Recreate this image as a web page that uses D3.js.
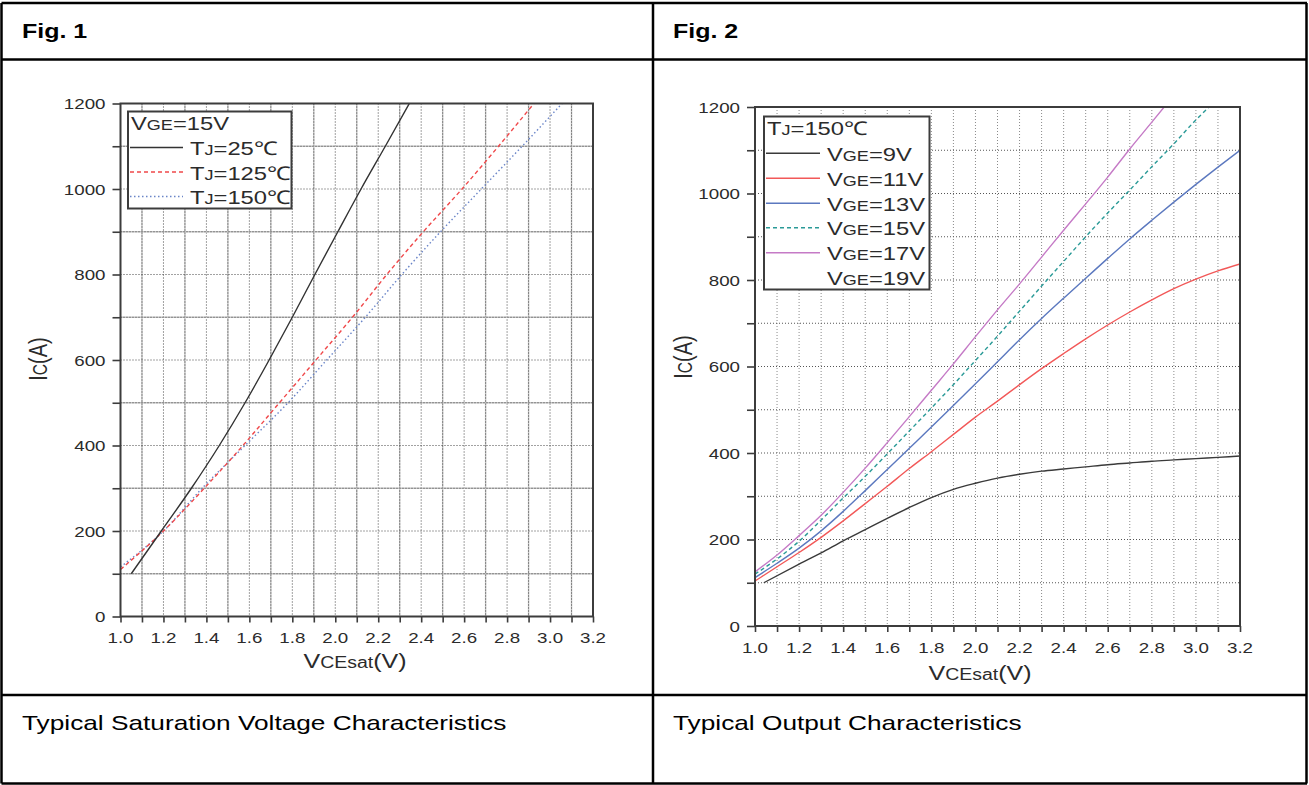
<!doctype html>
<html>
<head>
<meta charset="utf-8">
<script src="https://d3js.org/d3.v7.min.js"></script>
<style>
  body { margin: 0; background: #fff; }
  text { font-family: "Liberation Sans", Arial, sans-serif; }
</style>
</head>
<body>
<script>
// ---------- data ----------
var xTickLabels = [1.0, 1.2, 1.4, 1.6, 1.8, 2.0, 2.2, 2.4, 2.6, 2.8, 3.0, 3.2];
var xMinorTicks = [1.1, 1.3, 1.5, 1.7, 1.9, 2.1, 2.3, 2.5, 2.7, 2.9, 3.1];
var yTickLabels = [0, 200, 400, 600, 800, 1000, 1200];
var yMinorTicks = [100, 300, 500, 700, 900, 1100];

// Fig. 1  VGE = 15V, [VCEsat, IC]
var tj25 = [[1.05,100],[1.19,200],[1.33,300],[1.46,400],[1.58,500],[1.692,600],[1.80,700],
            [1.905,800],[2.012,900],[2.12,1000],[2.233,1100],[2.345,1200]];
var tj125 = [[1.0,110],[1.2,200],[1.39,300],[1.57,400],[1.74,500],[1.91,600],[2.08,700],
             [2.24,800],[2.41,900],[2.59,1000],[2.76,1100],[2.925,1200]];
var tj150 = [[1.0,116],[1.2,200],[1.38,300],[1.58,400],[1.78,500],[1.96,600],[2.14,700],
             [2.31,800],[2.49,900],[2.68,1000],[2.87,1100],[3.056,1200]];

// Fig. 2  TJ = 150C, [VCEsat, IC]
var vge9 = [[1.04,100],[1.2,143],[1.3,169],[1.4,197],[1.5,223],[1.6,249],[1.7,274],[1.8,297],
            [1.9,316],[2.0,330],[2.1,342],[2.2,351],[2.3,358],[2.4,363],[2.5,368],[2.6,373],
            [2.7,377],[2.8,381],[2.9,384],[3.0,387],[3.1,390],[3.2,393]];
var vge11 = [[1.0,104],[1.1,137],[1.2,170],[1.3,205],[1.4,243],[1.5,283],[1.6,323],[1.7,364],
             [1.8,403],[1.9,443],[2.0,483],[2.1,520],[2.2,558],[2.3,595],[2.4,630],[2.5,664],
             [2.6,696],[2.7,726],[2.8,754],[2.9,780],[3.0,802],[3.1,821],[3.2,837]];
var vge13 = [[1.0,112],[1.1,145],[1.2,180],[1.3,220],[1.4,265],[1.5,313],[1.6,362],[1.7,411],
             [1.8,460],[1.9,510],[2.0,560],[2.1,611],[2.2,662],[2.3,711],[2.4,758],[2.5,804],
             [2.6,850],[2.7,895],[2.8,938],[2.9,980],[3.0,1021],[3.1,1061],[3.2,1100]];
var vge15 = [[1.0,120],[1.1,155],[1.2,196],[1.3,245],[1.4,296],[1.5,346],[1.6,398],[1.7,451],
             [1.8,504],[1.9,558],[2.0,614],[2.1,670],[2.2,728],[2.3,786],[2.4,843],[2.5,900],
             [2.6,955],[2.7,1008],[2.8,1062],[2.9,1115],[3.0,1170],[3.06,1200]];
var vge17 = [[1.0,125],[1.1,164],[1.2,209],[1.3,256],[1.4,309],[1.5,365],[1.6,424],[1.7,484],
             [1.8,545],[1.9,606],[2.0,669],[2.1,731],[2.2,791],[2.3,853],[2.4,915],[2.5,976],
             [2.6,1038],[2.7,1103],[2.8,1165],[2.856,1200]];

var svg = d3.select("body").append("svg").attr("width", 1309).attr("height", 785);
var SX = 1.25;   // the source picture is stretched sideways

function richText(parent, x, y, parts, size, anchor, rotate) {
    var tr = "translate(" + x + "," + y + ")" +
        (rotate ? " rotate(-90) scale(1," + SX + ")" : " scale(" + SX + ",1)");
    var t = parent.append("text")
        .attr("transform", tr)
        .attr("font-size", size)
        .attr("text-anchor", anchor || "start")
        .attr("fill", "#2b2b2b");
    parts.forEach(function(p) {
        t.append("tspan").attr("font-size", size * (p[1] || 1)).text(p[0]);
    });
    return t;
}

// ---------- table ----------
var table = svg.append("g").attr("stroke", "#000").attr("stroke-width", 2.5);
[[1.5, 3, 1307, 3], [1.5, 59.5, 1307, 59.5], [1.5, 695, 1307, 695], [1.5, 783.5, 1307, 783.5],
 [1.5, 3, 1.5, 783.5], [653, 3, 653, 783.5], [1306.5, 3, 1306.5, 783.5]].forEach(function(l) {
    table.append("line").attr("x1", l[0]).attr("y1", l[1]).attr("x2", l[2]).attr("y2", l[3]);
});
richText(svg, 22, 38, [["Fig. 1"]], 20).attr("font-weight", "bold").attr("fill", "#000");
richText(svg, 673, 38, [["Fig. 2"]], 20).attr("font-weight", "bold").attr("fill", "#000");
richText(svg, 22, 730, [["Typical Saturation Voltage Characteristics"]], 21).attr("fill", "#000");
richText(svg, 673, 730, [["Typical Output Characteristics"]], 21).attr("fill", "#000");

// ---------- one chart ----------
function drawFig(cfg) {
    var g = svg.append("g");
    var x = d3.scaleLinear().domain([1.0, 3.2]).range([cfg.left, cfg.right]);
    var y = d3.scaleLinear().domain([0, 1200]).range([cfg.bottom, cfg.top]);

    // grid
    var grid = g.append("g").attr("fill", "none");
    xMinorTicks.forEach(function(v) {
        if (cfg.minorSolid)
            grid.append("line").attr("x1", x(v)).attr("x2", x(v)).attr("y1", cfg.top).attr("y2", cfg.bottom)
                .attr("stroke", "#c4c4c4").attr("stroke-width", 1.4);
        grid.append("line").attr("x1", x(v)).attr("x2", x(v)).attr("y1", cfg.top).attr("y2", cfg.bottom)
            .attr("stroke", cfg.vGrid).attr("stroke-dasharray", "1,2");
    });
    xTickLabels.slice(1, -1).forEach(function(v) {
        grid.append("line").attr("x1", x(v)).attr("x2", x(v)).attr("y1", cfg.top).attr("y2", cfg.bottom)
            .attr("stroke", cfg.vGrid).attr("stroke-dasharray", "1,2");
    });
    yMinorTicks.forEach(function(v) {
        if (cfg.minorSolid)
            grid.append("line").attr("y1", y(v)).attr("y2", y(v)).attr("x1", cfg.left).attr("x2", cfg.right)
                .attr("stroke", "#c4c4c4").attr("stroke-width", 1.4);
        grid.append("line").attr("y1", y(v)).attr("y2", y(v)).attr("x1", cfg.left).attr("x2", cfg.right)
            .attr("stroke", cfg.hGrid).attr("stroke-dasharray", "1,2");
    });
    yTickLabels.slice(1, -1).forEach(function(v) {
        grid.append("line").attr("y1", y(v)).attr("y2", y(v)).attr("x1", cfg.left).attr("x2", cfg.right)
            .attr("stroke", cfg.hGrid).attr("stroke-dasharray", "1,2");
    });

    // ticks
    var allX = xTickLabels.concat(xMinorTicks), allY = yTickLabels.concat(yMinorTicks);
    var ax = g.append("g").attr("transform", "translate(0," + cfg.bottom + ")")
        .call(d3.axisBottom(x).tickValues(allX).tickSize(6).tickSizeOuter(0).tickFormat(""));
    var ay = g.append("g").attr("transform", "translate(" + cfg.left + ",0)")
        .call(d3.axisLeft(y).tickValues(allY).tickSize(8).tickSizeOuter(0).tickFormat(""));
    [ax, ay].forEach(function(a) {
        a.selectAll("line").attr("stroke", "#3c3c3c").attr("stroke-width", 1.6);
        a.select(".domain").remove();
    });

    // curves
    var clipId = "clip" + cfg.id;
    g.append("clipPath").attr("id", clipId).append("rect")
        .attr("x", cfg.left).attr("y", cfg.top)
        .attr("width", cfg.right - cfg.left).attr("height", cfg.bottom - cfg.top);
    var line = d3.line().x(function(d) { return x(d[0]); }).y(function(d) { return y(d[1]); })
        .curve(d3.curveMonotoneX);
    cfg.series.forEach(function(s) {
        g.append("path").datum(s.data).attr("d", line).attr("clip-path", "url(#" + clipId + ")")
            .attr("fill", "none").attr("stroke", s.color).attr("stroke-width", 1.4)
            .attr("stroke-dasharray", s.dash || null);
    });

    // frame
    g.append("rect").attr("x", cfg.left).attr("y", cfg.top)
        .attr("width", cfg.right - cfg.left).attr("height", cfg.bottom - cfg.top)
        .attr("fill", "none").attr("stroke", "#3c3c3c").attr("stroke-width", 2);

    // tick labels
    yTickLabels.forEach(function(v) {
        richText(g, cfg.left - 15, y(v) + 5.5, [[String(v)]], 15, "end");
    });
    xTickLabels.forEach(function(v) {
        richText(g, x(v), cfg.bottom + 26.5, [[v.toFixed(1)]], 15, "middle");
    });

    // axis titles
    richText(g, cfg.xTitle[0], cfg.xTitle[1], [["V"], ["CEsat", 0.78], ["(V)"]], 20, "middle");
    richText(g, cfg.yTitle[0], cfg.yTitle[1], [["I"], ["C", 0.78], ["(A)"]], 20, "middle", true);

    // legend
    var L = cfg.legend;
    g.append("rect").attr("x", L.x).attr("y", L.y).attr("width", L.w).attr("height", L.h)
        .attr("fill", "#fff").attr("stroke", "#3c3c3c").attr("stroke-width", 2);
    richText(g, L.x + 3, L.titleY, L.title, 19);
    L.rows.forEach(function(r, i) {
        var ly = L.rowY[i];
        if (r.color)
            g.append("line").attr("x1", L.lineX[0]).attr("x2", L.lineX[1]).attr("y1", ly).attr("y2", ly)
                .attr("stroke", r.color).attr("stroke-width", 1.4).attr("stroke-dasharray", r.dash || null);
        richText(g, L.textX, ly + 7.5, r.parts, 19);
    });
}

var c25 = "#333333", c125 = "#f0484a", c150 = "#6a85c8";
drawFig({
    id: 1, left: 120.5, right: 593, top: 103.5, bottom: 616.5,
    minorSolid: true, vGrid: "#444", hGrid: "#444",
    xTitle: [355, 668], yTitle: [47, 359],
    series: [
        { data: tj150, color: c150, dash: "1.5,2.5" },
        { data: tj125, color: c125, dash: "4,3" },
        { data: tj25, color: c25 }
    ],
    legend: {
        x: 128, y: 111.5, w: 163.5, h: 97, titleY: 129.5,
        title: [["V"], ["GE", 0.76], ["=15V"]],
        lineX: [130, 183], textX: 190, rowY: [147.5, 172, 196.5],
        rows: [
            { color: c25, parts: [["T"], ["J", 0.76], ["=25\u2103"]] },
            { color: c125, dash: "4,3", parts: [["T"], ["J", 0.76], ["=125\u2103"]] },
            { color: c150, dash: "1.5,2.5", parts: [["T"], ["J", 0.76], ["=150\u2103"]] }
        ]
    }
});

var k9 = "#3a3a3a", k11 = "#f25858", k13 = "#5b78bf", k15 = "#2a9a97", k17 = "#c57ac6";
drawFig({
    id: 2, left: 755, right: 1240, top: 107, bottom: 626,
    minorSolid: false, vGrid: "#8a8a8a", hGrid: "#555",
    xTitle: [980, 680], yTitle: [692, 357],
    series: [
        { data: vge9, color: k9 },
        { data: vge11, color: k11 },
        { data: vge13, color: k13 },
        { data: vge15, color: k15, dash: "4,3" },
        { data: vge17, color: k17 }
    ],
    legend: {
        x: 764, y: 116.5, w: 165.5, h: 173, titleY: 135,
        title: [["T"], ["J", 0.76], ["=150\u2103"]],
        lineX: [766, 820], textX: 827, rowY: [153.3, 178.3, 203.3, 227.7, 252.7, 277.7],
        rows: [
            { color: k9, parts: [["V"], ["GE", 0.76], ["=9V"]] },
            { color: k11, parts: [["V"], ["GE", 0.76], ["=11V"]] },
            { color: k13, parts: [["V"], ["GE", 0.76], ["=13V"]] },
            { color: k15, dash: "4,3", parts: [["V"], ["GE", 0.76], ["=15V"]] },
            { color: k17, parts: [["V"], ["GE", 0.76], ["=17V"]] },
            { color: null, parts: [["V"], ["GE", 0.76], ["=19V"]] }
        ]
    }
});
</script>
</body>
</html>
